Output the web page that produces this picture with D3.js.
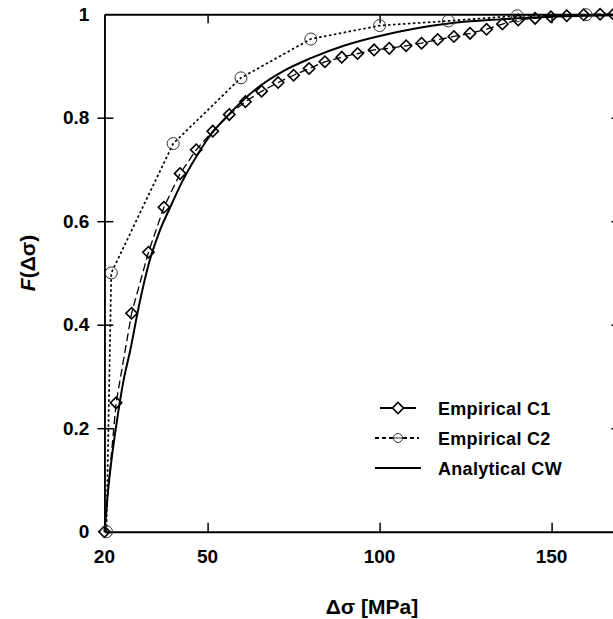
<!DOCTYPE html>
<html>
<head>
<meta charset="utf-8">
<script src="https://cdn.jsdelivr.net/npm/d3@7"></script>
<style>
  body { margin: 0; background: #fff; }
  svg { display: block; font-family: "Liberation Sans", Arial, sans-serif; }
</style>
</head>
<body>
<script>
// Empirical C1 (diamonds)
var c1X = [20, 23.4, 27.9, 32.8, 37.3, 42.0, 46.7, 51.5, 56.3, 61.0, 65.7, 70.5, 75.0, 79.5, 84.1, 89.0, 93.6, 98.4, 102.8, 107.7, 112.2, 116.9, 121.6, 126.3, 131.1, 135.7, 140.3, 145.2, 149.8, 154.4, 159.3, 164.1, 168.0];
var c1Y = [0, 0.249, 0.422, 0.540, 0.627, 0.692, 0.738, 0.774, 0.806, 0.831, 0.851, 0.868, 0.882, 0.895, 0.908, 0.917, 0.924, 0.931, 0.934, 0.939, 0.944, 0.951, 0.957, 0.963, 0.971, 0.981, 0.989, 0.992, 0.995, 0.997, 0.999, 1.0, 1.0];

// Empirical C2 (circles)
var c2X = [20.6, 22, 40, 59.7, 80, 100, 120, 140, 160];
var c2Y = [0, 0.5, 0.75, 0.877, 0.952, 0.978, 0.987, 0.997, 0.999];

// Analytical CW (solid curve)
var cwX = [20, 20.5, 21, 22, 23, 24, 25.5, 27.5, 30, 33, 36, 39, 42.5, 47, 51, 56, 64, 72, 80, 90, 100, 110, 120, 135, 150, 170];
var cwY = [0, 0.035, 0.075, 0.135, 0.185, 0.23, 0.29, 0.35, 0.435, 0.52, 0.58, 0.625, 0.675, 0.728, 0.768, 0.805, 0.855, 0.89, 0.915, 0.94, 0.958, 0.972, 0.982, 0.99, 0.995, 0.998];

var xTicks = [20, 50, 100, 150];
var yTicks = [0, 0.2, 0.4, 0.6, 0.8, 1];
var legendNames = ["Empirical C1", "Empirical C2", "Analytical CW"];

var width = 613, height = 619;
// plot box (right edge lies just past the window)
var x0 = 104.4, x1 = 620.4, y0 = 531.7, y1 = 14.2;

var svg = d3.select("body").append("svg")
    .attr("width", width)
    .attr("height", height);

var xScale = d3.scaleLinear().domain([20, 170]).range([x0, x1]);
var yScale = d3.scaleLinear().domain([0, 1]).range([y0, y1]);

function zip(xs, ys) { return xs.map(function (d, i) { return {x: d, y: ys[i]}; }); }
var c1 = zip(c1X, c1Y), c2 = zip(c2X, c2Y), cw = zip(cwX, cwY);

// frame + axes
function styleAxis(g, w) {
    g.selectAll("path").attr("stroke", "#000").attr("stroke-width", w);
    g.selectAll("line").attr("stroke", "#000").attr("stroke-width", 1.5);
}
var fmt = function (d) { return d === 0 || d === 1 ? String(d) : d3.format(".1f")(d); };

// left: outer ticks with labels + inner ticks
var gl = svg.append("g").attr("transform", "translate(" + x0 + ",0)")
    .call(d3.axisLeft(yScale).tickValues(yTicks).tickSizeInner(7).tickSizeOuter(0).tickPadding(8).tickFormat(fmt));
styleAxis(gl, 1.5);
gl.selectAll(".tick line").filter(function (d) { return d === 0 || d === 1; }).remove();
gl.selectAll("text").attr("font-size", 19).attr("font-weight", "bold").attr("fill", "#000")
    .attr("font-family", "Liberation Sans, Arial, sans-serif");
var gli = svg.append("g").attr("transform", "translate(" + x0 + ",0)")
    .call(d3.axisRight(yScale).tickValues(yTicks.slice(1, 5)).tickSizeInner(9).tickSizeOuter(0).tickFormat(""));
styleAxis(gli, 1.5);

// bottom: inner ticks, labels below
var gb = svg.append("g").attr("transform", "translate(0," + y0 + ")")
    .call(d3.axisTop(xScale).tickValues(xTicks.slice(1)).tickSizeInner(9).tickSizeOuter(0).tickFormat(""));
styleAxis(gb, 2);
svg.append("g").selectAll("text").data(xTicks).enter().append("text")
    .attr("x", function (d) { return xScale(d); })
    .attr("y", y0 + 31)
    .attr("text-anchor", "middle")
    .attr("font-size", 19).attr("font-weight", "bold")
    .text(function (d) { return d; });

// top + right (right one is mostly off the window)
var gt = svg.append("g").attr("transform", "translate(0," + y1 + ")")
    .call(d3.axisBottom(xScale).tickValues(xTicks.slice(1)).tickSizeInner(9).tickSizeOuter(0).tickFormat(""));
styleAxis(gt, 2);
var gr = svg.append("g").attr("transform", "translate(" + x1 + ",0)")
    .call(d3.axisLeft(yScale).tickValues(yTicks.slice(1, 5)).tickSizeInner(9).tickSizeOuter(0).tickFormat(""));
styleAxis(gr, 2);

// axis titles
svg.append("text")
    .attr("x", 372).attr("y", 614)
    .attr("text-anchor", "middle")
    .attr("font-size", 21).attr("font-weight", "bold")
    .text("\u0394\u03c3 [MPa]");
var yl = svg.append("text")
    .attr("transform", "translate(35,263) rotate(-90)")
    .attr("text-anchor", "middle")
    .attr("font-size", 21).attr("font-weight", "bold");
yl.append("tspan").attr("font-style", "italic").text("F");
yl.append("tspan").text("(\u0394\u03c3)");

// lines
var line = d3.line().x(function (d) { return xScale(d.x); }).y(function (d) { return yScale(d.y); });
svg.append("path").datum(cw)
    .attr("d", line.curve(d3.curveMonotoneX))
    .attr("fill", "none").attr("stroke", "#000").attr("stroke-width", 2);
line.curve(d3.curveLinear);
svg.append("path").datum(c1)
    .attr("d", line)
    .attr("fill", "none").attr("stroke", "#000").attr("stroke-width", 1.3)
    .attr("stroke-dasharray", "8,4");
svg.append("path").datum(c2)
    .attr("d", line)
    .attr("fill", "none").attr("stroke", "#000").attr("stroke-width", 1.7)
    .attr("stroke-dasharray", "2.5,2.5");

// markers
var diamond = d3.symbol().type(d3.symbolSquare).size(64);
svg.append("g").selectAll("path").data(c1).enter().append("path")
    .attr("d", diamond)
    .attr("transform", function (d) { return "translate(" + xScale(d.x) + "," + yScale(d.y) + ") rotate(45)"; })
    .attr("fill", "none").attr("stroke", "#000").attr("stroke-width", 1.6);
svg.append("g").selectAll("circle").data(c2).enter().append("circle")
    .attr("cx", function (d) { return xScale(d.x); })
    .attr("cy", function (d) { return yScale(d.y); })
    .attr("r", 6)
    .attr("fill", "none").attr("stroke", "#333").attr("stroke-width", 1);

// legend
var legY = [408, 438, 468];
var leg = svg.append("g");
leg.append("line").attr("x1", 380).attr("x2", 416).attr("y1", legY[0]).attr("y2", legY[0])
    .attr("stroke", "#000").attr("stroke-width", 2);
leg.append("path").attr("d", diamond)
    .attr("transform", "translate(398," + legY[0] + ") rotate(45)")
    .attr("fill", "#fff").attr("stroke", "#000").attr("stroke-width", 1.6);
leg.append("line").attr("x1", 375).attr("x2", 419).attr("y1", legY[1]).attr("y2", legY[1])
    .attr("stroke", "#000").attr("stroke-width", 2).attr("stroke-dasharray", "4,3");
leg.append("circle").attr("cx", 398).attr("cy", legY[1]).attr("r", 4.5)
    .attr("fill", "#fff").attr("stroke", "#333").attr("stroke-width", 1);
leg.append("line").attr("x1", 392).attr("x2", 404).attr("y1", legY[1]).attr("y2", legY[1])
    .attr("stroke", "#333").attr("stroke-width", 1);
leg.append("line").attr("x1", 375).attr("x2", 421).attr("y1", legY[2]).attr("y2", legY[2])
    .attr("stroke", "#000").attr("stroke-width", 2.2);
leg.selectAll("text").data(legendNames).enter().append("text")
    .attr("x", 438)
    .attr("y", function (d, i) { return legY[i] + 6.5; })
    .attr("font-size", 18).attr("font-weight", "bold")
    .attr("letter-spacing", 0.3)
    .text(function (d) { return d; });
</script>
</body>
</html>
